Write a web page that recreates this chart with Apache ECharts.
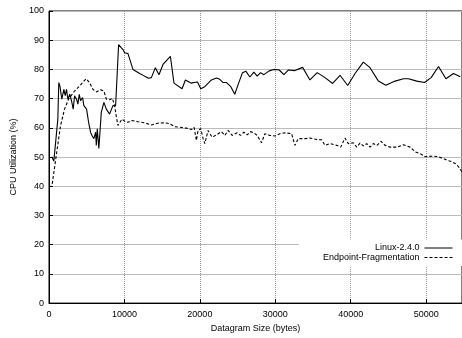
<!DOCTYPE html>
<html><head><meta charset="utf-8">
<script src="https://cdn.jsdelivr.net/npm/echarts@6/dist/echarts.min.js"></script>
<style>html,body{margin:0;padding:0;background:#fff}#c{width:462px;height:338px}</style>
</head><body><div id="c"></div>
<script>
const seriesNames = ['Linux-2.4.0', 'Endpoint-Fragmentation'];
const linuxX = [370,640,1170,1300,1450,1700,1970,2150,2320,2500,2760,3030,3210,3390,3650,3830,4010,4180,4450,4620,4980,5250,5510,5700,5950,6180,6270,6400,6610,6930,7280,7600,8030,8470,8830,9230,9800,10030,10470,11130,12020,12680,13210,13570,14100,14580,15110,16090,16570,17640,18080,18880,19230,19680,20120,20650,21540,22200,22640,23080,23530,24100,24630,25080,25650,26090,26630,27160,27600,28040,28490,29190,29810,30520,31140,31710,32600,33620,34590,35560,36590,37600,38580,39600,40570,41670,42560,43670,44650,45880,46990,47650,48760,49780,50660,51640,52620,53620,54520];
const linuxY = [50.1,48.6,63,75.5,74.3,69.8,73.2,71,73.2,69.8,71.5,68.7,66.4,71,69.8,68.1,71.5,69.3,70.4,67.6,66.4,61.9,58.5,57.4,56.3,58.5,54,59.7,52.9,65.3,68.7,66.4,64.7,67.6,67.6,88.5,86.8,85.7,85.4,80,78.6,77.7,77,77.2,80.6,78.2,81.7,84.5,75.3,73.4,76.4,75.3,75.5,75.7,73.4,74.1,76.4,77.1,76.6,75.5,75.5,74.1,71.5,74.9,78.9,79.4,77.4,79.1,77.7,78.9,78.2,79.5,80,79.8,78.2,79.8,79.6,80.7,76.4,78.9,77.2,75.2,78,74.5,78.6,82.5,80.6,76,74.6,76,76.8,76.8,76,75.5,77.2,81,76.8,78.6,77.5];
const fragX = [70,375,1530,2060,2590,3390,4050,4620,4940,5380,5820,6270,6840,7280,7600,8030,8400,8700,8900,9140,9670,10120,10470,11000,11800,12680,13570,14450,15340,16000,16670,17330,18220,18880,19230,19540,19760,20120,20430,20650,21090,21620,22200,22870,23310,23750,24280,24940,25390,25830,26280,26720,27160,27600,28180,28620,29280,29950,30610,31270,32160,32600,33040,33930,34590,35480,36150,36590,37250,38140,38670,39240,39680,40340,40800,41230,41670,42120,42560,43000,43460,44020,44550,45210,46110,46990,47870,48540,49200,49870,50760,51420,52090,52750,53410,53850,54290,54730];
const fragY = [40,39.9,60.8,66.4,69.8,72.6,74.3,76,76.8,75.5,73.2,72.3,73,72.6,69.8,69.6,70.1,67.6,64.2,60.8,63,62.1,61.9,62.5,62.1,61.7,61,61.6,61.7,61.4,60.4,60.2,59.9,59.4,60.2,55.7,59.1,59.7,56.3,54.6,59.1,56.8,57.6,58.7,57.4,59.1,57.4,58.3,57.4,58.5,57.6,58.7,58.3,57.4,54.9,58,57.4,57.2,58,58.3,58,54,56.3,56.3,56.5,56,55.9,54,54.6,54,53.4,56.5,54.6,54.9,53.4,54.8,53.8,54.6,53.4,54.6,54,55.4,54,53.4,53.4,54.2,53.4,51.8,51.2,50.1,50.3,50.2,49.7,48.9,48.4,47.8,46.7,45];
const xTicks = [0,10000,20000,30000,40000,50000];
const yTicks = [0,10,20,30,40,50,60,70,80,90,100];

const pairs = (xs, ys) => xs.map((x, i) => [x, ys[i]]);
const font = 'Liberation Sans';
const chart = echarts.init(document.getElementById('c'), null, {renderer: 'canvas'});
chart.setOption({
  animation: false,
  backgroundColor: '#fff',
  textStyle: {fontFamily: font},
  grid: {left: 49, right: 0, top: 11, bottom: 32, show: true, borderColor: '#000', borderWidth: 1, backgroundColor: 'transparent'},
  xAxis: {
    type: 'value', min: 0, max: 54750, interval: 10000,
    name: 'Datagram Size (bytes)', nameLocation: 'middle', nameGap: 17,
    nameTextStyle: {fontFamily: font, fontSize: 9, color: '#000'},
    axisLine: {lineStyle: {color: '#000', width: 1}},
    axisTick: {inside: true, length: 4, lineStyle: {color: '#000'}},
    axisLabel: {fontFamily: font, fontSize: 9, color: '#000', margin: 7, showMaxLabel: false,
      formatter: v => xTicks.includes(v) ? String(v) : ''},
    splitLine: {show: true, lineStyle: {color: '#999', width: 1, type: [1, 1]}}
  },
  yAxis: {
    type: 'value', min: 0, max: 100, interval: 10,
    name: 'CPU Utilization (%)', nameLocation: 'middle', nameGap: 24,
    nameTextStyle: {fontFamily: font, fontSize: 9, color: '#000'},
    axisLine: {lineStyle: {color: '#000', width: 1}},
    axisTick: {inside: true, length: 4, lineStyle: {color: '#000'}},
    axisLabel: {fontFamily: font, fontSize: 9, color: '#000', margin: 5,
      formatter: v => yTicks.includes(v) ? String(v) : ''},
    splitLine: {show: true, lineStyle: {color: '#bbb', width: 1}}
  },
  legend: {
    orient: 'vertical', right: 0, top: 239.5, align: 'right',
    backgroundColor: '#fff', padding: [4, 9, 4, 24],
    itemWidth: 28, itemHeight: 10, itemGap: 0.5,
    itemStyle: {opacity: 0},
    lineStyle: {width: 1},
    textStyle: {fontFamily: font, fontSize: 9, color: '#000'},
    data: seriesNames
  },
  series: [
    {name: seriesNames[0], type: 'line', data: pairs(linuxX, linuxY), symbol: 'none', showSymbol: false,
      lineStyle: {color: '#000', width: 1.1}, itemStyle: {color: '#000'}},
    {name: seriesNames[1], type: 'line', data: pairs(fragX, fragY), symbol: 'none', showSymbol: false,
      lineStyle: {color: '#000', width: 1.1, type: [3, 2]}, itemStyle: {color: '#000'}}
  ]
});
</script></body></html>
